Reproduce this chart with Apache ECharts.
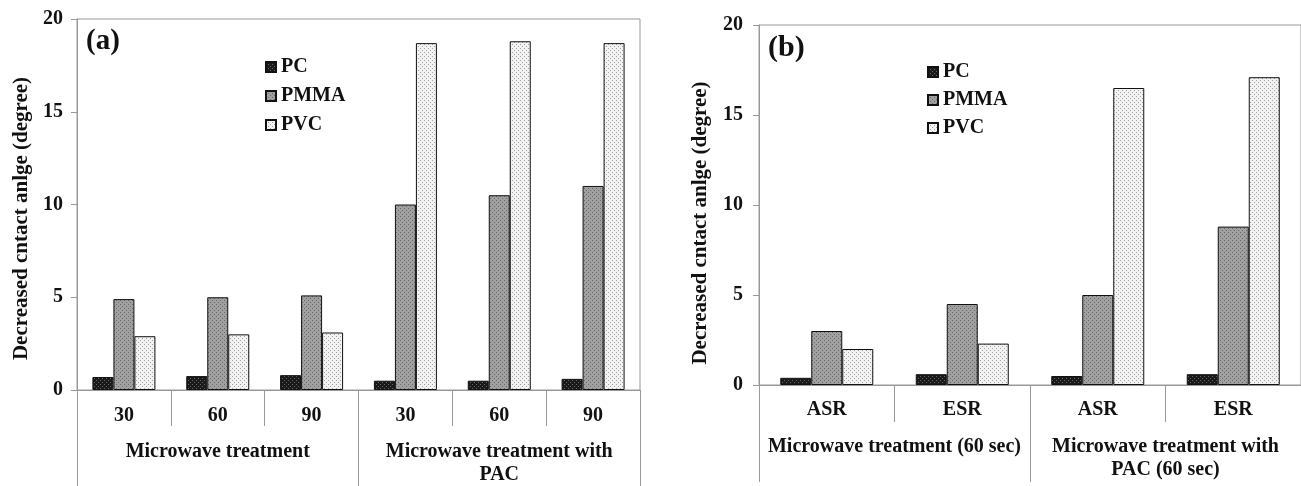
<!DOCTYPE html>
<html><head><meta charset="utf-8">
<script src="https://cdn.jsdelivr.net/npm/echarts@6/dist/echarts.min.js"></script>
<style>html,body{margin:0;padding:0;background:#fff}#c{width:1301px;height:486px}</style>
</head><body><div id="c"></div>
<script>
const seriesNames = ['PC', 'PMMA', 'PVC'];
// Panel (a)
const catsA = ['30', '60', '90', '30', '60', '90'];
const groupsA = ['Microwave treatment', 'Microwave treatment with\nPAC'];
const pcA = [0.7, 0.75, 0.8, 0.5, 0.5, 0.6];
const pmmaA = [4.9, 5.0, 5.1, 10.0, 10.5, 11.0];
const pvcA = [2.9, 3.0, 3.1, 18.7, 18.8, 18.7];
// Panel (b)
const catsB = ['ASR', 'ESR', 'ASR', 'ESR'];
const groupsB = ['Microwave treatment (60 sec)', 'Microwave treatment with\nPAC (60 sec)'];
const pcB = [0.4, 0.6, 0.5, 0.6];
const pmmaB = [3.0, 4.5, 5.0, 8.8];
const pvcB = [2.0, 2.3, 16.5, 17.1];
const yTitle = 'Decreased cntact anlge (degree)';

function pattern(bg, dot) {
  const c = document.createElement('canvas');
  c.width = 4; c.height = 4;
  const g = c.getContext('2d');
  g.fillStyle = bg; g.fillRect(0, 0, 4, 4);
  g.fillStyle = dot;
  g.fillRect(0, 0, 1, 1); g.fillRect(2, 2, 1, 1);
  return { image: c, repeat: 'repeat' };
}
const fills = [pattern('#1a1a1a', '#666'), pattern('#a0a0a0', '#6a6a6a'), pattern('#f2f2f2', '#a0a0a0')];
const FONT = '"Liberation Serif", "Times New Roman", serif';
const AX = '#999';

function yAxis(grid, gap, margin, shift) {
  return {
    type: 'value', gridIndex: grid, min: 0, max: 20, interval: 5,
    name: yTitle, nameLocation: 'middle', nameRotate: 90, nameGap: gap,
    nameTextStyle: { fontFamily: FONT, fontWeight: 'bold', fontSize: 21, color: '#111', padding: [0, shift, 0, 0] },
    axisLine: { show: true, lineStyle: { color: AX, width: 1 } },
    axisTick: { show: true, length: 6, lineStyle: { color: AX } },
    splitLine: { show: false },
    axisLabel: { fontFamily: FONT, fontWeight: 'bold', fontSize: 20, color: '#111', margin: margin }
  };
}
function subAxis(grid, data, tickLen, margin) {
  return {
    type: 'category', gridIndex: grid, data: data, position: 'bottom',
    axisLine: { show: true, lineStyle: { color: AX } },
    axisTick: { show: true, interval: 0, length: tickLen, lineStyle: { color: AX } },
    axisLabel: { interval: 0, fontFamily: FONT, fontWeight: 'bold', fontSize: 20, color: '#111', margin: margin }
  };
}
function groupAxis(grid, data, tickLen, margin) {
  return {
    type: 'category', gridIndex: grid, data: data, position: 'bottom',
    axisLine: { show: false },
    axisTick: { show: true, interval: 0, length: tickLen, lineStyle: { color: AX } },
    axisLabel: { interval: 0, fontFamily: FONT, fontWeight: 'bold', fontSize: 20, color: '#111', margin: margin, lineHeight: 23, verticalAlign: 'top' }
  };
}
function bars(vals, i, xi, yi, w) {
  return {
    type: 'bar', name: seriesNames[i], xAxisIndex: xi, yAxisIndex: yi, data: vals,
    barWidth: w, barGap: '0%',
    itemStyle: { color: fills[i], borderColor: '#111', borderWidth: 1 },
    emphasis: { disabled: true }
  };
}
function legend(left, top, gap) {
  return {
    left: left, top: top, orient: 'vertical', itemWidth: 10, itemHeight: 10, itemGap: gap,
    data: seriesNames, icon: 'rect', selectedMode: false,
    textStyle: { fontFamily: FONT, fontWeight: 'bold', fontSize: 20, color: '#111' }
  };
}

const chart = echarts.init(document.getElementById('c'), null, { renderer: 'canvas' });
chart.setOption({
  animation: false,
  backgroundColor: '#fff',
  grid: [
    { left: 77, top: 19, width: 563, height: 373, show: true, borderColor: AX, borderWidth: 1 },
    { left: 759, top: 25, width: 546, height: 360, show: true, borderColor: AX, borderWidth: 1 }
  ],
  legend: [legend(260, 52, 9), legend(922, 57, 8)],
  xAxis: [
    subAxis(0, catsA, 36, 16),
    groupAxis(0, groupsA, 100, 50),
    subAxis(1, catsB, 37, 15),
    groupAxis(1, groupsB, 97, 50)
  ],
  yAxis: [yAxis(0, 45, 14, 28), yAxis(1, 48, 16, 36)],
  series: [
    bars(pcA, 0, 0, 0, 21), bars(pmmaA, 1, 0, 0, 21), bars(pvcA, 2, 0, 0, 21),
    bars(pcB, 0, 2, 1, 31), bars(pmmaB, 1, 2, 1, 31), bars(pvcB, 2, 2, 1, 31)
  ],
  graphic: [
    { type: 'text', left: 86, top: 27, style: { text: '(a)', font: 'bold 29px ' + FONT, fill: '#111' } },
    { type: 'text', left: 768, top: 33, style: { text: '(b)', font: 'bold 30px ' + FONT, fill: '#111' } }
  ]
});
</script></body></html>
